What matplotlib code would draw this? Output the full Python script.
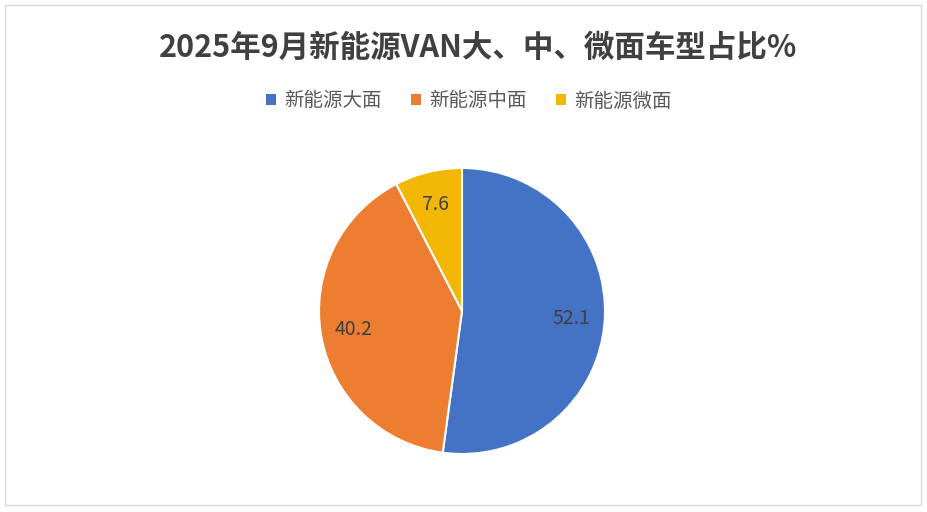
import matplotlib
matplotlib.use("Agg")
import matplotlib.pyplot as plt
from matplotlib.patches import Rectangle, Patch

plt.rcParams['font.family'] = ['Noto Sans CJK SC', 'DejaVu Sans']

categories = ['新能源大面', '新能源中面', '新能源微面']
values = [52.1, 40.2, 7.6]
colors = ['#4472C4', '#ED7D31', '#F2B705']
title = '2025年9月新能源VAN大、中、微面车型占比%'

W, H = 927, 512
fig = plt.figure(figsize=(W / 100, H / 100), dpi=100)
fig.patch.set_facecolor('white')

# outer border
fig.add_artist(Rectangle((5 / W, 7 / H), 916 / W, 500 / H, transform=fig.transFigure,
                         fill=False, edgecolor='#D9D9D9', linewidth=1))

cx, cy, r = 462, 311, 143
ax = fig.add_axes([(cx - r) / W, (H - cy - r) / H, 2 * r / W, 2 * r / H])
total = sum(values)
wedges, texts, autotexts = ax.pie(
    values, colors=colors, startangle=90, counterclock=False,
    wedgeprops=dict(edgecolor='white', linewidth=1.5),
    autopct=lambda p: f'{p * total / 100:.1f}', pctdistance=0.77,
    textprops=dict(color='#404040', fontsize=14))
ax.set_xlim(-1, 1)
ax.set_ylim(-1, 1)

fig.text(478 / W, 1 - 48 / H, title, ha='center', va='center', fontsize=22,
         fontweight='bold', color='#404040')

handles = [Patch(facecolor=c, edgecolor='none') for c in colors]
fig.legend(handles, categories, loc='center', bbox_to_anchor=(469 / W, 1 - 101 / H), ncol=3,
           frameon=False, fontsize=14, handlelength=0.5, handleheight=0.5,
           handletextpad=0.45, columnspacing=1.5, labelcolor='#595959')

fig.savefig('out.png', dpi=100)
